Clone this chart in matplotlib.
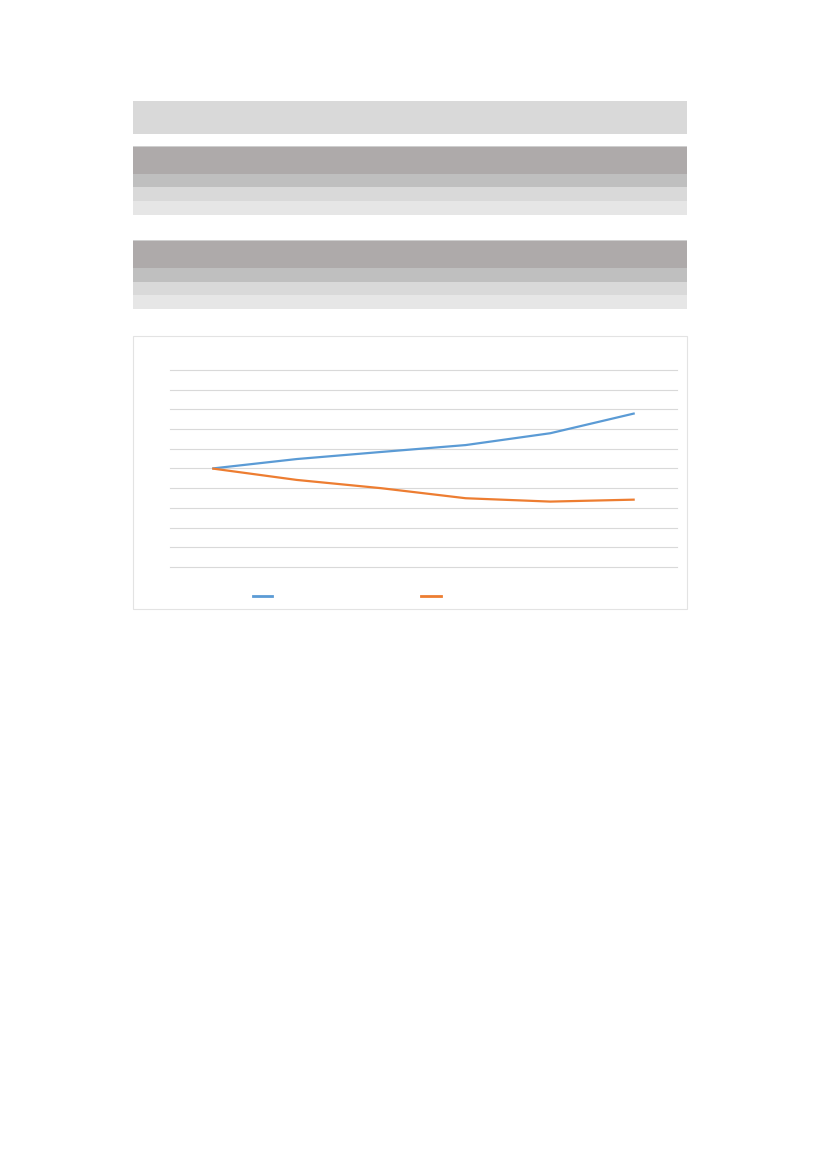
import matplotlib
matplotlib.use("Agg")
import matplotlib.pyplot as plt
from matplotlib.patches import Rectangle
from matplotlib.lines import Line2D

# chart data (no visible text in the reference)
categories = [0, 1, 2, 3, 4, 5]
serie_azul = [5.0, 5.48, 5.84, 6.19, 6.79, 7.8]
serie_naranja = [5.0, 4.42, 4.0, 3.49, 3.32, 3.42]

W, H = 827, 1169
fig = plt.figure(figsize=(W / 100, H / 100), dpi=100)

def caja(x0, y0, x1, y1, color, **kw):
    # pixel coords (top-left origin) -> figure fraction
    r = Rectangle((x0 / W, 1 - y1 / H), (x1 - x0) / W, (y1 - y0) / H,
                  transform=fig.transFigure, facecolor=color, zorder=0, **kw)
    fig.patches.append(r)

# top band
caja(133, 101, 687, 133.5, '#D9D9D9', edgecolor='none')

# two tables: header + 3 rows
for top in (147, 241):
    caja(133, top, 687, top + 27, '#AEAAAA', edgecolor='none')
    caja(133, top + 27, 687, top + 40.5, '#BFBFBF', edgecolor='none')
    caja(133, top + 40.5, 687, top + 54, '#D9D9D9', edgecolor='none')
    caja(133, top + 54, 687, top + 68, '#E6E6E6', edgecolor='none')
    caja(133, top - 1, 687, top, '#CFCFCF', edgecolor='none')

# chart frame
caja(133, 336, 687, 609, 'none', edgecolor='#E3E3E3', linewidth=0.8)

ax = fig.add_axes([170 / W, 1 - 567 / H, 507 / W, 197 / H])
ax.set_zorder(2)
ax.set_facecolor('none')
xs = [c + 0.5 for c in categories]
ax.plot(xs, serie_azul, color='#5B9BD5', linewidth=1.6, solid_capstyle='butt', zorder=3)
ax.plot(xs, serie_naranja, color='#ED7D31', linewidth=1.6, solid_capstyle='butt', zorder=3)
ax.set_xlim(0, 6)
ax.set_ylim(0, 10)
ax.set_yticks(range(0, 11))
ax.set_xticks([])
ax.grid(axis='y', color='#D9D9D9', linewidth=0.8)
for gl in ax.get_ygridlines():
    gl.set_clip_on(False)
ax.set_axisbelow(True)
ax.tick_params(left=False, labelleft=False)
for s in ax.spines.values():
    s.set_visible(False)

# legend line markers (labels are blank in the reference)
h1 = Line2D([], [], color='#5B9BD5', linewidth=2)
h2 = Line2D([], [], color='#ED7D31', linewidth=2)
leg = fig.legend([h1, h2], ['', ''], ncol=2, frameon=False,
                 loc='center left', bbox_to_anchor=(253 / W, 1 - 597 / H),
                 borderaxespad=0, borderpad=0, handlelength=1.4, handletextpad=0,
                 columnspacing=10.7, fontsize=10)
leg.set_zorder(3)

fig.savefig('out.png', dpi=100)
